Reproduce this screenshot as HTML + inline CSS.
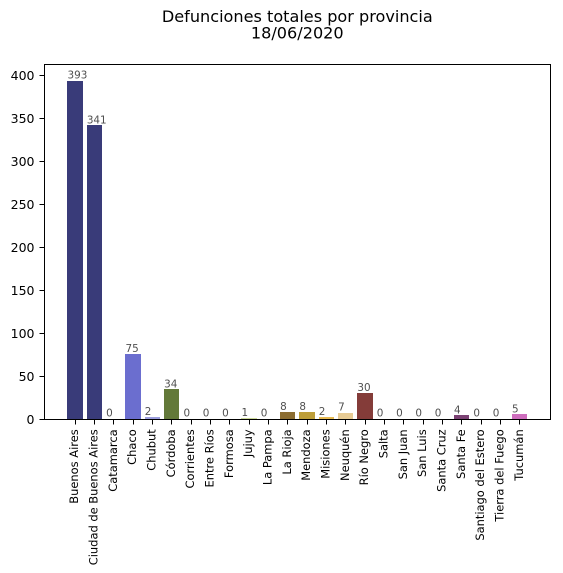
<!DOCTYPE html>
<html lang="es">
<head>
<meta charset="utf-8">
<title>Defunciones totales por provincia</title>
<style>
html,body{margin:0;padding:0;background:#fff;}
svg{display:block;}
text{font-family:"DejaVu Sans","Liberation Sans",sans-serif;}
</style>
</head>
<body>
<svg id="chart" xmlns="http://www.w3.org/2000/svg" width="563" height="573" viewBox="0 0 563 573">
  <rect x="0" y="0" width="563" height="573" fill="#fff"/>
  <text x="297.3" y="22" text-anchor="middle" font-size="16.1" fill="#000">Defunciones totales por provincia</text>
  <text x="297.3" y="38.5" text-anchor="middle" font-size="16.1" fill="#000">18/06/2020</text>
  <g id="plot"></g>
</svg>
<script>
const categories = ["Buenos Aires","Ciudad de Buenos Aires","Catamarca","Chaco","Chubut","Córdoba","Corrientes","Entre Ríos","Formosa","Jujuy","La Pampa","La Rioja","Mendoza","Misiones","Neuquén","Río Negro","Salta","San Juan","San Luis","Santa Cruz","Santa Fe","Santiago del Estero","Tierra del Fuego","Tucumán"];
const deaths = [393,341,0,75,2,34,0,0,0,1,0,8,8,2,7,30,0,0,0,0,4,0,0,5];
const yTicks = [0,50,100,150,200,250,300,350,400];
const barPalette = ["#393b79","#393b79","#5254a3","#6b6ecf","#9c9ede","#637939","#8ca252","#b5cf6b","#b5cf6b","#cedb9c","#cedb9c","#8c6d31","#bd9e39","#e7ba52","#e7cb94","#843c39","#ad494a","#d6616b","#e7969c","#e7969c","#7b4173","#a55194","#a55194","#ce6dbd"];

const NS = "http://www.w3.org/2000/svg";
const plot = document.getElementById("plot");
const box = {left:44.5, right:550.5, top:64.5, bottom:419.5};
const barWidth = 0.8;
const xMin = -barWidth/2 - 0.05*(categories.length - 1 + barWidth);
const xMax = categories.length - 1 + barWidth/2 + 0.05*(categories.length - 1 + barWidth);
const yMax = 393 * 1.05;
function xScale(v){ return box.left + (v - xMin) / (xMax - xMin) * (box.right - box.left); }
function yScale(v){ return box.bottom - v / yMax * (box.bottom - box.top); }
function make(tag, attrs, text){
  const el = document.createElementNS(NS, tag);
  for (const k in attrs) el.setAttribute(k, attrs[k]);
  if (text !== undefined) el.textContent = text;
  plot.appendChild(el);
  return el;
}

deaths.forEach(function(value, i){
  const x0 = Math.round(xScale(i - barWidth/2) - 0.2);
  const x1 = Math.round(xScale(i + barWidth/2) - 0.2);
  const top = Math.round(yScale(value) - 0.8);
  const bar = make("rect", {x:x0, y:top, width:x1 - x0, height:Math.max(0, 420 - top), fill:barPalette[i % barPalette.length], "shape-rendering":"crispEdges"});
  
  
  const label = make("text", {x:xScale(i - barWidth/2), y:yScale(value) - 2.8, "font-size":10.4, fill:"#000", "fill-opacity":0.7}, String(value));
  
  
});

yTicks.forEach(function(value){
  const y = Math.floor(yScale(value)) + 0.5;
  const tick = make("line", {x1:box.left - 5, x2:box.left, y1:y, y2:y, stroke:"#000", "stroke-width":1, "shape-rendering":"crispEdges"});
  
  
  const label = make("text", {x:box.left - 10, y:yScale(value) + 4.6, "text-anchor":"end", "font-size":12.5, fill:"#000"}, String(value));
  
  
});

categories.forEach(function(name, i){
  const x = Math.floor(xScale(i)) + 0.5;
  const tick = make("line", {x1:x, x2:x, y1:box.bottom, y2:box.bottom + 5, stroke:"#000", "stroke-width":1, "shape-rendering":"crispEdges"});
  
  
  const lx = xScale(i) + 3;
  const ly = box.bottom + 9.8;
  const label = make("text", {x:lx, y:ly, "text-anchor":"end", "font-size":11.45, fill:"#000", transform:"rotate(-90 " + lx + " " + ly + ")"}, name);
  
  
});

const frame = make("rect", {x:box.left, y:box.top, width:box.right - box.left, height:box.bottom - box.top, fill:"none", stroke:"#000", "stroke-width":1, "shape-rendering":"crispEdges"});


</script>
</body>
</html>
